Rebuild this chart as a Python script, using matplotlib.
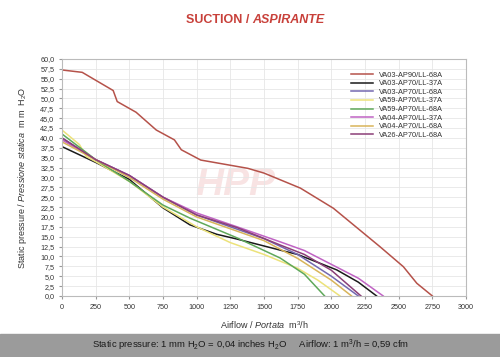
import numpy as np
import matplotlib
matplotlib.use("Agg")
import matplotlib.pyplot as plt
from matplotlib.ticker import MultipleLocator, FuncFormatter

plt.rcParams["font.family"] = ["Liberation Sans", "DejaVu Sans"]
plt.rcParams["mathtext.fontset"] = "custom"
plt.rcParams["mathtext.rm"] = "Liberation Sans"
plt.rcParams["mathtext.it"] = "Liberation Sans:italic"

# airflow (m3/h) / static pressure (mm H2O)
labels = ["VA03-AP90/LL-68A", "VA03-AP70/LL-37A", "VA03-AP70/LL-68A", "VA59-AP70/LL-37A",
          "VA59-AP70/LL-68A", "VA04-AP70/LL-37A", "VA04-AP70/LL-68A", "VA26-AP70/LL-68A"]
colors = ["#b5524a", "#1a1a1a", "#7468b0", "#ece27a", "#5fa85a", "#c063c4", "#d8b45a", "#8b3f78"]

x_red = [0, 150, 380, 410, 550, 700, 835, 886, 1030, 1380, 1500, 1770, 2015, 2360, 2535, 2635, 2750]
y_red = [57.2, 56.6, 52.0, 49.2, 46.5, 42.0, 39.5, 37.0, 34.4, 32.3, 31.1, 27.3, 22.2, 12.5, 7.4, 3.2, 0.0]

x_blk = [0, 250, 500, 750, 950, 1150, 1300, 1620, 1750, 2040, 2200, 2336]
y_blk = [37.8, 33.8, 29.5, 22.3, 18.0, 15.6, 14.4, 11.6, 10.5, 6.6, 3.5, 0.0]

x_blu = [0, 250, 500, 750, 1000, 1250, 1500, 1750, 2000, 2200]
y_blu = [40.0, 34.5, 30.5, 25.0, 20.5, 17.5, 14.5, 10.5, 5.0, 0.0]

x_yel = [0, 130, 180, 250, 500, 750, 1000, 1250, 1500, 1750, 1900, 2064]
y_yel = [42.0, 38.3, 35.3, 34.0, 29.0, 22.5, 17.5, 13.5, 10.5, 7.0, 4.0, 0.0]

x_grn = [0, 250, 500, 750, 950, 1300, 1620, 1800, 1950]
y_grn = [41.0, 34.5, 29.0, 23.0, 19.7, 14.7, 9.6, 5.5, 0.0]

x_mag = [0, 250, 500, 750, 1000, 1300, 1620, 1800, 2000, 2200, 2385]
y_mag = [39.5, 34.5, 30.5, 25.0, 21.0, 17.5, 13.7, 11.5, 8.0, 4.5, 0.0]

x_gld = [0, 250, 500, 750, 1000, 1250, 1500, 1750, 2000, 2150]
y_gld = [39.0, 34.5, 30.0, 24.5, 20.0, 17.0, 14.0, 9.5, 4.0, 0.0]

x_vio = [0, 250, 500, 750, 1000, 1300, 1620, 1800, 2000, 2220]
y_vio = [40.0, 34.5, 30.5, 25.0, 20.5, 17.3, 12.9, 10.5, 6.5, 0.0]

series = [(x_red, y_red), (x_blk, y_blk), (x_blu, y_blu), (x_yel, y_yel),
          (x_grn, y_grn), (x_mag, y_mag), (x_gld, y_gld), (x_vio, y_vio)]

fig = plt.figure(figsize=(5.0, 3.57), dpi=100)
ax = fig.add_axes([0.124, 0.171, 0.808, 0.664])

# faint logo watermark
ax.text(0.43, 0.47, "HPP", transform=ax.transAxes, fontsize=28, fontweight="bold",
        style="italic", color="#e9a5a5", alpha=0.3, ha="center", va="center", zorder=0)

for (xs, ys), c, lab in zip(series, colors, labels):
    ax.plot(xs, ys, color=c, lw=1.1, label=lab)

ax.set_xlim(0, 3000)
ax.set_ylim(0, 60)
ax.xaxis.set_major_locator(MultipleLocator(250))
ax.yaxis.set_major_locator(MultipleLocator(2.5))
ax.yaxis.set_major_formatter(FuncFormatter(lambda v, p: f"{v:.1f}".replace(".", ",")))
ax.tick_params(labelsize=5.2, length=2, color="#999999", labelcolor="#333333")
ax.grid(True, color="#e6e6e6", lw=0.6)
for s in ax.spines.values():
    s.set_color("#bbbbbb")
    s.set_linewidth(0.8)

leg = ax.legend(loc="upper right", fontsize=5.3, frameon=False, handlelength=3,
                labelspacing=0.2, bbox_to_anchor=(0.96, 0.975))
for t in leg.get_texts():
    t.set_color("#333333")

ax.set_xlabel(r"Airflow / $\it{Portata}$  m$^3$/h", fontsize=6.5, color="#333333", labelpad=6)
ax.set_ylabel(r"Static pressure / $\it{Pressione\ statica}$  m m  H$_2$O", fontsize=6.5,
              color="#333333", labelpad=8)

fig.text(0.505, 0.945, "SUCTION / ", fontsize=9, fontweight="bold", color="#c8403a", ha="right", va="center")
fig.text(0.505, 0.945, "ASPIRANTE", fontsize=9, fontweight="bold", style="italic", color="#c8403a",
         ha="left", va="center")

# grey footer band with conversions
fig.patches.append(plt.Rectangle((0, 0), 1, 0.064, transform=fig.transFigure, color="#9b9b9b", zorder=0))
fig.text(0.5, 0.033, r"Static pressure: 1 mm H$_2$O = 0,04 inches H$_2$O     Airflow: 1 m$^3$/h = 0,59 cfm",
         fontsize=6.8, color="#1a1a1a", ha="center", va="center")

fig.savefig("out.png", dpi=100, facecolor="white")
